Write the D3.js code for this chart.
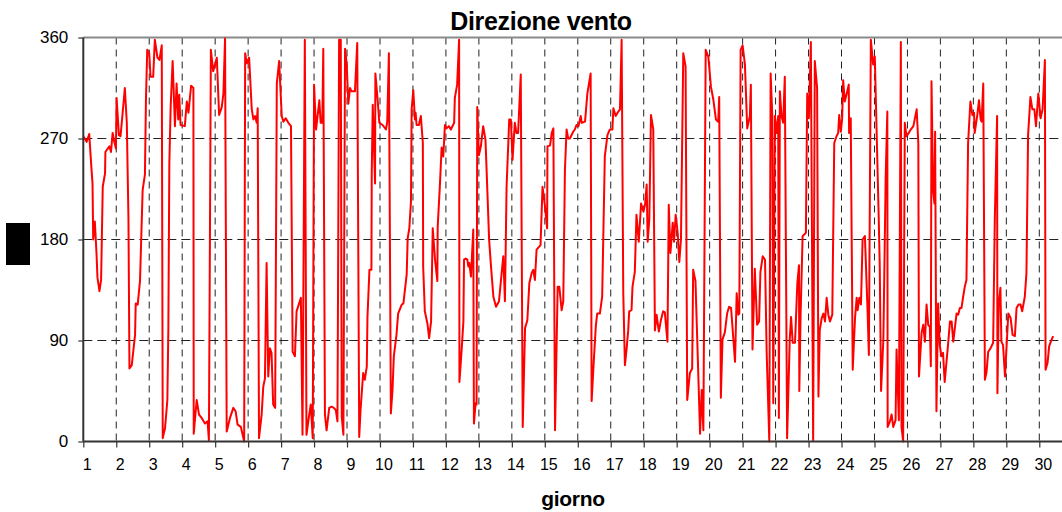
<!DOCTYPE html>
<html><head><meta charset="utf-8">
<script src="https://cdn.jsdelivr.net/npm/d3@7"></script>
<style>body{margin:0;background:#fff}svg{display:block}text{font-family:"Liberation Sans",Arial,sans-serif}</style>
</head><body><svg id="c" width="1062" height="512"></svg>
<script>
const title = "Direzione vento";
const xLabel = "giorno";
const dayTicks = d3.range(1, 31);
const dirTicks = [0, 90, 180, 270, 360];
const days = [1.00,1.10,1.18,1.25,1.28,1.30,1.35,1.40,1.43,1.49,1.54,1.59,1.66,1.67,1.79,1.84,1.89,1.94,1.99,2.01,2.08,2.13,2.26,2.32,2.37,2.40,2.47,2.57,2.59,2.65,2.72,2.80,2.87,2.90,2.94,3.00,3.04,3.12,3.17,3.25,3.31,3.38,3.41,3.48,3.55,3.58,3.61,3.65,3.71,3.78,3.83,3.88,3.91,3.95,4.08,4.14,4.19,4.27,4.34,4.35,4.44,4.51,4.59,4.69,4.77,4.81,4.87,4.94,5.05,5.12,5.20,5.25,5.30,5.35,5.45,5.55,5.62,5.68,5.78,5.88,5.91,5.96,6.03,6.11,6.16,6.21,6.26,6.29,6.33,6.41,6.46,6.51,6.56,6.61,6.66,6.71,6.76,6.82,6.87,6.94,7.02,7.07,7.14,7.22,7.30,7.35,7.42,7.47,7.60,7.65,7.72,7.77,7.83,7.90,7.96,8.00,8.06,8.16,8.20,8.25,8.28,8.33,8.38,8.46,8.53,8.60,8.66,8.71,8.76,8.81,8.84,8.89,8.94,8.99,9.04,9.09,9.14,9.24,9.31,9.37,9.41,9.49,9.54,9.60,9.62,9.68,9.74,9.75,9.78,9.85,9.86,9.93,9.98,10.08,10.18,10.22,10.27,10.33,10.38,10.42,10.50,10.55,10.66,10.71,10.81,10.84,10.89,10.94,10.96,11.01,11.06,11.08,11.11,11.18,11.24,11.30,11.31,11.36,11.44,11.49,11.55,11.60,11.67,11.74,11.75,11.82,11.87,11.92,11.97,12.02,12.09,12.15,12.25,12.27,12.34,12.40,12.41,12.48,12.53,12.55,12.60,12.65,12.68,12.71,12.76,12.83,12.85,12.90,12.93,12.95,13.00,13.06,13.13,13.20,13.26,13.31,13.36,13.44,13.52,13.61,13.69,13.74,13.79,13.84,13.92,13.97,14.02,14.09,14.14,14.19,14.27,14.33,14.40,14.47,14.53,14.60,14.65,14.70,14.75,14.87,14.93,15.00,15.07,15.08,15.16,15.21,15.26,15.31,15.39,15.44,15.51,15.56,15.61,15.66,15.71,15.76,15.86,15.91,15.96,16.02,16.09,16.12,16.22,16.29,16.39,16.42,16.49,16.55,16.59,16.67,16.74,16.82,16.90,16.97,17.05,17.08,17.15,17.23,17.28,17.33,17.38,17.43,17.48,17.53,17.56,17.63,17.66,17.73,17.78,17.85,17.92,17.99,18.04,18.09,18.12,18.17,18.22,18.29,18.34,18.39,18.46,18.52,18.59,18.64,18.72,18.76,18.81,18.88,18.92,18.97,19.03,19.08,19.13,19.20,19.27,19.32,19.40,19.47,19.50,19.57,19.71,19.76,19.81,19.88,19.96,20.04,20.11,20.19,20.26,20.29,20.34,20.39,20.46,20.53,20.59,20.65,20.72,20.77,20.82,20.87,20.90,20.94,21.00,21.07,21.14,21.22,21.25,21.30,21.37,21.44,21.50,21.54,21.61,21.68,21.73,21.81,21.85,21.90,21.93,21.98,22.03,22.08,22.10,22.13,22.18,22.23,22.28,22.35,22.43,22.47,22.52,22.59,22.66,22.71,22.72,22.76,22.82,22.92,22.96,23.01,23.07,23.14,23.19,23.26,23.30,23.34,23.40,23.45,23.50,23.55,23.60,23.65,23.72,23.78,23.85,23.90,23.93,23.98,24.02,24.05,24.10,24.15,24.22,24.23,24.28,24.34,24.41,24.46,24.49,24.54,24.59,24.64,24.71,24.79,24.83,24.89,24.96,25.01,25.13,25.16,25.20,25.27,25.34,25.39,25.40,25.47,25.52,25.57,25.64,25.67,25.74,25.80,25.82,25.87,25.92,25.97,26.04,26.10,26.18,26.28,26.33,26.35,26.43,26.48,26.53,26.58,26.63,26.68,26.71,26.73,26.78,26.82,26.84,26.88,26.93,26.98,27.03,27.08,27.13,27.24,27.29,27.34,27.39,27.49,27.54,27.59,27.64,27.69,27.74,27.79,27.84,27.91,27.97,28.02,28.04,28.12,28.17,28.22,28.25,28.30,28.35,28.40,28.45,28.52,28.60,28.65,28.72,28.73,28.77,28.82,28.85,28.90,28.96,29.06,29.13,29.19,29.26,29.31,29.37,29.43,29.48,29.56,29.61,29.66,29.73,29.79,29.85,29.90,29.97,30.04,30.10,30.17,30.19,30.25,30.30,30.35,30.42];
const directions = [272,267,274,242,230,180,196,168,146,134,144,227,239,258,263,258,275,267,261,306,273,272,315,284,198,65,68,95,123,122,143,224,238,304,349,346,325,325,358,342,340,353,3,12,37,100,248,298,339,281,319,287,309,282,281,303,293,317,315,7,37,24,21,16,18,1,349,330,342,291,298,310,359,9,21,30,27,15,13,0,346,337,342,296,287,290,284,297,3,24,49,56,159,58,83,79,33,30,319,339,290,285,288,284,281,80,76,116,128,6,358,6,19,33,3,318,278,304,284,284,350,24,10,30,31,30,28,18,358,358,22,6,350,336,301,315,312,312,355,4,28,61,55,67,111,153,153,239,300,230,328,304,284,282,278,285,346,25,46,76,95,114,122,123,149,181,190,214,296,313,287,293,282,282,290,266,156,116,105,92,107,190,162,143,191,230,262,254,282,279,281,278,284,306,318,358,53,83,107,162,163,162,156,159,147,189,16,34,33,298,255,263,281,269,221,180,159,129,120,125,150,165,125,227,287,287,251,284,275,275,327,13,101,108,141,150,153,144,171,175,227,211,190,263,264,275,279,10,138,138,117,125,242,278,270,270,276,278,282,281,290,284,285,310,328,36,74,104,114,114,129,254,273,278,278,297,290,294,296,358,132,68,82,99,116,117,138,151,202,178,212,205,211,229,178,198,291,278,99,113,98,108,116,115,89,211,168,195,178,202,186,160,180,346,334,37,61,65,153,143,7,46,10,349,343,316,305,287,285,307,39,91,97,114,120,119,91,71,132,113,114,349,353,336,279,290,318,82,154,104,107,151,165,162,79,0,328,291,34,290,275,290,21,312,290,284,325,3,91,111,88,88,141,157,45,114,183,186,310,288,356,1,339,315,40,99,110,114,107,128,113,107,113,266,272,275,291,276,288,322,303,309,318,275,288,64,110,128,117,128,122,180,183,117,77,358,336,343,198,156,45,91,236,294,13,18,24,13,19,82,19,356,13,0,284,272,275,278,281,296,266,58,97,104,89,122,104,102,67,321,223,212,276,27,123,86,76,79,53,89,107,107,89,114,113,119,119,129,138,144,266,303,291,293,275,291,304,287,285,319,55,62,80,83,88,198,290,43,123,137,89,86,58,114,110,95,94,119,122,122,116,129,150,273,307,296,296,281,310,288,296,340,64,70,85,89,94];

const svg = d3.select("#c");
const plotL = 83.3, plotR = 1062, plotT = 37.5, plotB = 441.5;
const x = d3.scaleLinear().domain([1, 30]).range([plotL, 1039.3]);
const y = d3.scaleLinear().domain([0, 360]).range([plotB, plotT]);

// gridlines
svg.append("g").selectAll("line").data(dayTicks.slice(1)).join("line")
  .attr("x1", d => x(d)).attr("x2", d => x(d)).attr("y1", plotT).attr("y2", plotB)
  .attr("stroke", "#222").attr("stroke-width", 1).attr("stroke-dasharray", "7,5");
svg.append("g").selectAll("line").data(dirTicks.slice(1, 4)).join("line")
  .attr("x1", plotL).attr("x2", plotR).attr("y1", d => y(d)).attr("y2", d => y(d))
  .attr("stroke", "#222").attr("stroke-width", 1).attr("stroke-dasharray", "9,5");
svg.append("line").attr("x1", plotL).attr("x2", plotR).attr("y1", y(360)).attr("y2", y(360))
  .attr("stroke", "#8a8a8a").attr("stroke-width", 2);

// line
const line = d3.line().x((d, i) => x(days[i])).y(d => y(d));
svg.append("path").datum(directions).attr("d", line)
  .attr("fill", "none").attr("stroke", "#ff0000").attr("stroke-width", 2).attr("stroke-linejoin", "round");

// x axis
const xa = svg.append("g").attr("transform", `translate(0,${plotB})`)
  .call(d3.axisBottom(x).tickValues(dayTicks).tickSize(6).tickSizeOuter(0).tickFormat(d3.format("d")));
xa.select(".domain").remove();
xa.selectAll(".tick line").attr("stroke", "#333").attr("stroke-width", 1.2);
xa.selectAll(".tick text").attr("font-size", 16).attr("fill", "#000").attr("dx", 3.5).attr("dy", "1.2em")
  .attr("font-family", "'Liberation Sans', Arial, sans-serif");
svg.append("line").attr("x1", plotL).attr("x2", plotR).attr("y1", plotB).attr("y2", plotB)
  .attr("stroke", "#333").attr("stroke-width", 2);

// y axis
const ya = svg.append("g").attr("transform", `translate(${plotL},0)`)
  .call(d3.axisLeft(y).tickValues(dirTicks).tickSize(5).tickPadding(10).tickSizeOuter(0));
ya.select(".domain").remove();
ya.selectAll(".tick line").attr("stroke", "#333").attr("stroke-width", 1.2);
ya.selectAll(".tick text").attr("font-size", 17).attr("fill", "#000")
  .attr("font-family", "'Liberation Sans', Arial, sans-serif");
svg.append("line").attr("x1", plotL).attr("x2", plotL).attr("y1", plotT).attr("y2", plotB)
  .attr("stroke", "#333").attr("stroke-width", 2);

// title and labels
svg.append("text").attr("x", 541).attr("y", 30).attr("text-anchor", "middle")
  .attr("font-size", 25).attr("font-weight", "bold").attr("letter-spacing", -0.3).text(title);
svg.append("text").attr("x", 573).attr("y", 506).attr("text-anchor", "middle")
  .attr("font-size", 21).attr("font-weight", "bold").attr("letter-spacing", -0.3).text(xLabel);
svg.append("rect").attr("x", 6).attr("y", 223).attr("width", 24).attr("height", 42).attr("fill", "#000");
</script></body></html>
